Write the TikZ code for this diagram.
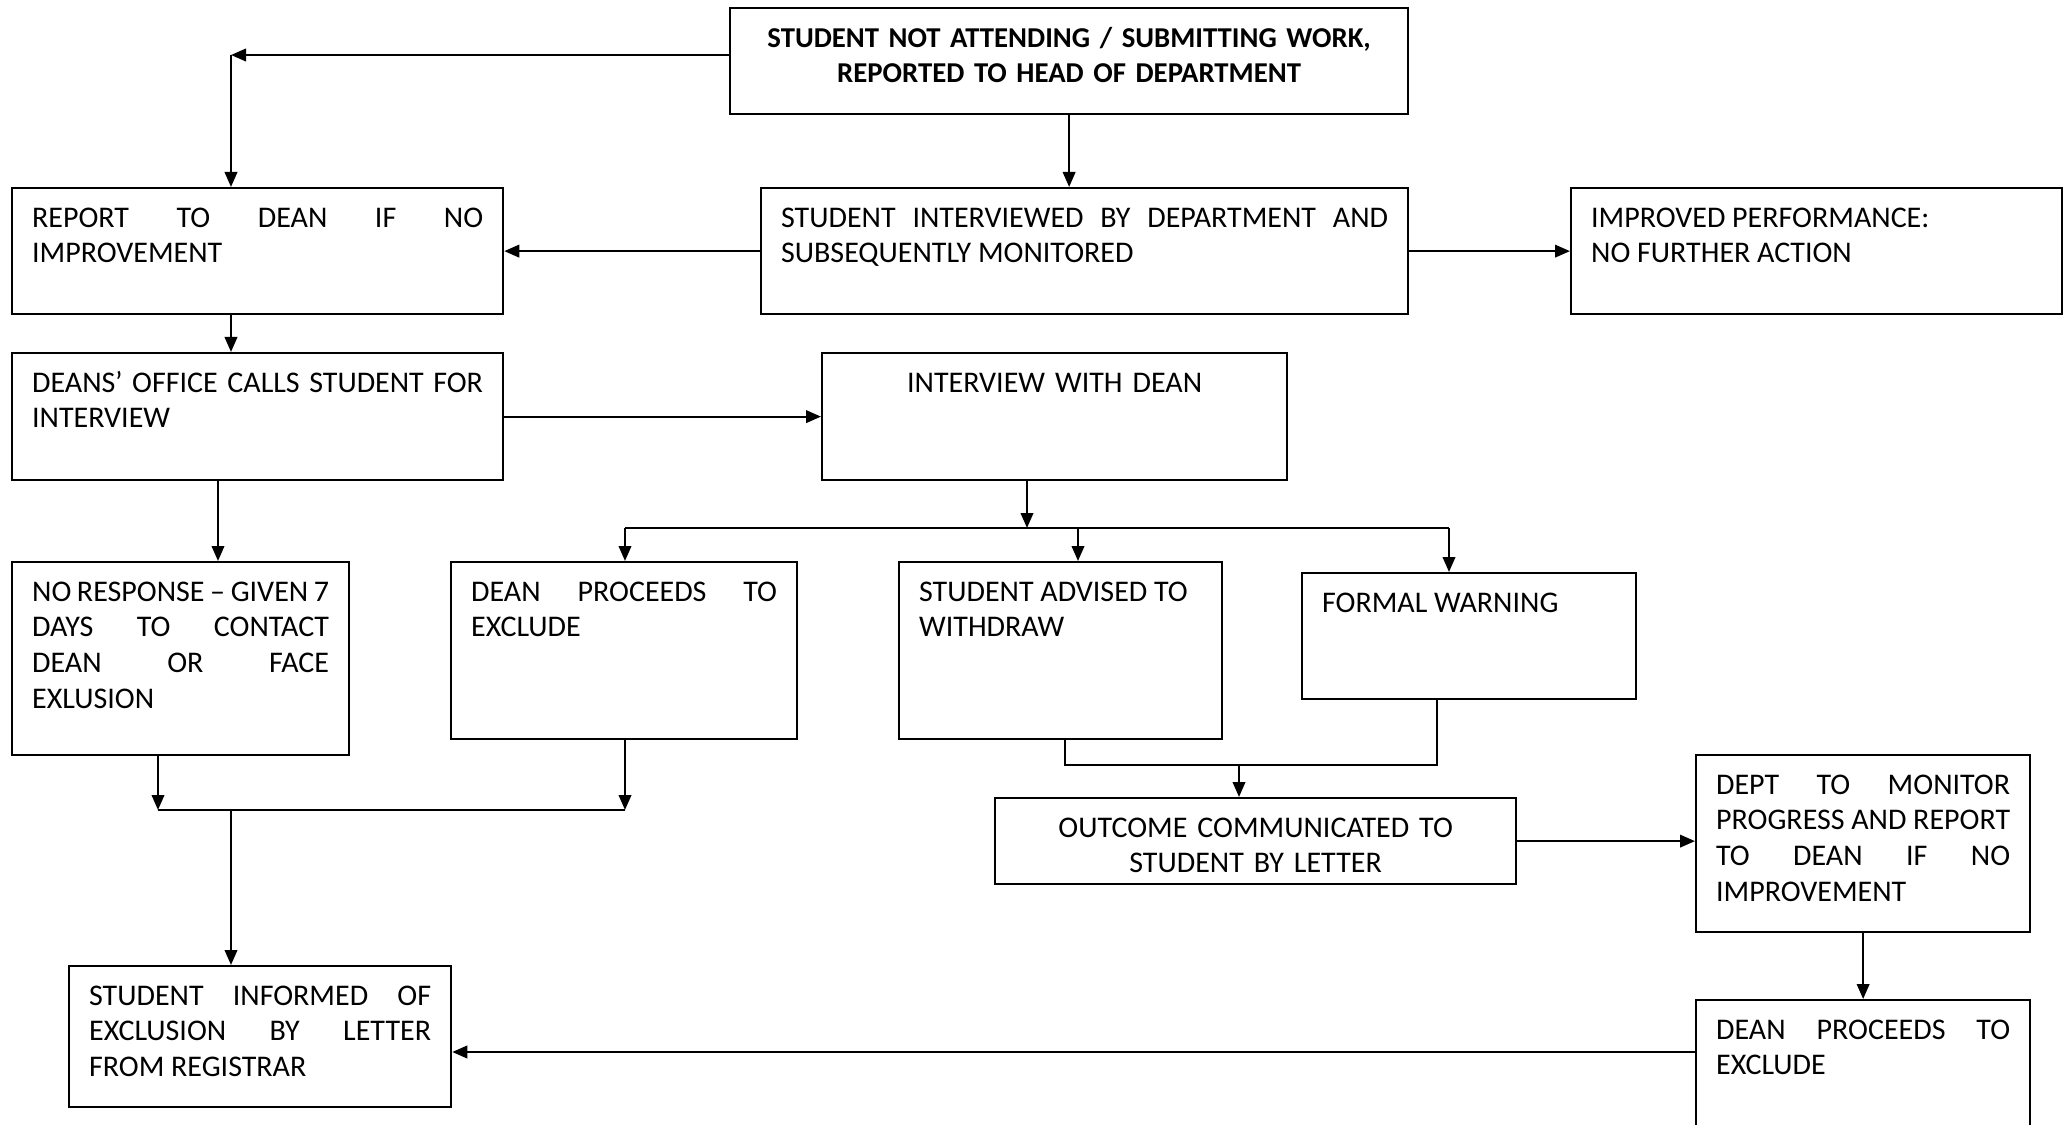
\documentclass[tikz,border=0pt]{standalone}
\usepackage{fontspec}
\setmainfont{Carlito}
\usetikzlibrary{arrows.meta}
\hyphenpenalty=10000
\exhyphenpenalty=10000
\tolerance=10000
\tikzset{blk/.style={draw,anchor=north west,align=justify,inner xsep=8pt,inner ysep=0pt,text height=15.6pt,font=\fontsize{12}{14.3}\selectfont}}

\begin{document}
\begin{tikzpicture}[x=0.4pt,y=-0.4pt,>={Triangle[length=6pt,width=5pt]},line width=0.9pt]
    \useasboundingbox (0,0) rectangle (2067,1125);
    \clip (0,0) rectangle (2067,1125);

    \node[blk,align=center,font=\fontsize{11.5}{14.3}\selectfont\bfseries,text width=255.2pt,text depth=26.8pt] (start) at (729,7) {STUDENT NOT ATTENDING / SUBMITTING WORK,\\REPORTED TO HEAD OF DEPARTMENT};
    \node[blk,text width=180.4pt,text depth=34.8pt] (toDean) at (11,187) {REPORT TO DEAN IF NO\linebreak IMPROVEMENT};
    \node[blk,text width=242.8pt,text depth=34.8pt] (byDept) at (760,187) {STUDENT INTERVIEWED BY DEPARTMENT AND\linebreak SUBSEQUENTLY MONITORED};
    \node[blk,text width=180.4pt,text depth=34.8pt] (improved) at (1570,187) {IMPROVED PERFORMANCE:\\NO FURTHER ACTION};
    \node[blk,text width=180.4pt,text depth=35.2pt] (calls) at (11,352) {DEANS’ OFFICE CALLS STUDENT FOR\linebreak INTERVIEW};
    \node[blk,align=center,text width=170pt,text depth=35.2pt] (withDean) at (821,352) {INTERVIEW WITH DEAN};
    \node[blk,text width=118.8pt,text depth=61.6pt] (noResp) at (11,561) {NO RESPONSE – GIVEN 7\linebreak DAYS TO CONTACT\linebreak DEAN OR FACE\linebreak EXLUSION};
    \node[blk,text width=122.4pt,text depth=55.2pt] (exclude) at (450,561) {DEAN PROCEEDS TO\linebreak EXCLUDE};
    \node[blk,text width=113.2pt,text depth=55.2pt] (withdraw) at (898,561) {STUDENT ADVISED TO\\WITHDRAW};
    \node[blk,text width=117.6pt,text depth=34.8pt] (warning) at (1301,572) {FORMAL WARNING};
    \node[blk,align=center,text width=192.4pt,text depth=18.8pt] (outcome) at (994,797) {OUTCOME COMMUNICATED TO\\STUDENT BY LETTER};
    \node[blk,text width=117.6pt,text depth=55.2pt] (monitor) at (1695,754) {DEPT TO MONITOR\linebreak PROGRESS AND REPORT\linebreak TO DEAN IF NO\linebreak IMPROVEMENT};
    \node[blk,text width=117.6pt,text depth=64.4pt] (exclude2) at (1695,999) {DEAN PROCEEDS TO\linebreak EXCLUDE};
    \node[blk,text width=136.8pt,text depth=40.8pt] (informed) at (68,965) {STUDENT INFORMED OF\linebreak EXCLUSION BY LETTER\linebreak FROM REGISTRAR};

    \coordinate (c1) at (231,55);
    \coordinate (e1) at (218,0);
    \coordinate (f1) at (1027,528);
    \coordinate (f2) at (625,528);
    \coordinate (f3) at (1078,528);
    \coordinate (f4) at (1449,528);
    \coordinate (g1) at (158,810);
    \coordinate (g2) at (625,810);
    \coordinate (g3) at (231,810);
    \coordinate (w1) at (1065,0);
    \coordinate (w2) at (1437,765);
    \coordinate (w3) at (1239,765);
    \coordinate (x1) at (1695,1052);

    \draw [->] (start.west |- c1) to (c1);
    \draw [->] (c1) to (c1 |- toDean.north);
    \draw [->] (start.south) to (start.south |- byDept.north);
    \draw [->] (byDept.west) to (toDean.east);
    \draw [->] (byDept.east) to (improved.west);
    \draw [->] (c1 |- toDean.south) to (c1 |- calls.north);
    \draw [->] (calls.east) to (withDean.west);
    \draw [->] (calls.south -| e1) to (noResp.north -| e1);
    \draw [->] (withDean.south -| f1) to (f1);
    \draw (f2) to (f4);
    \draw [->] (f2) to (f2 |- exclude.north);
    \draw [->] (f3) to (f3 |- withdraw.north);
    \draw [->] (f4) to (f4 |- warning.north);
    \draw [->] (noResp.south -| g1) to (g1);
    \draw [->] (exclude.south -| g2) to (g2);
    \draw (g1) to (g2);
    \draw [->] (g3) to (g3 |- informed.north);
    \draw (withdraw.south -| w1) |- (w2) -- (w2 |- warning.south);
    \draw [->] (w3) to (w3 |- outcome.north);
    \draw [->] (outcome.east) to (outcome.east -| monitor.west);
    \draw [->] (monitor.south) to (monitor.south |- exclude2.north);
    \draw [->] (exclude2.west |- x1) to (x1 -| informed.east);
\end{tikzpicture}
\end{document}
